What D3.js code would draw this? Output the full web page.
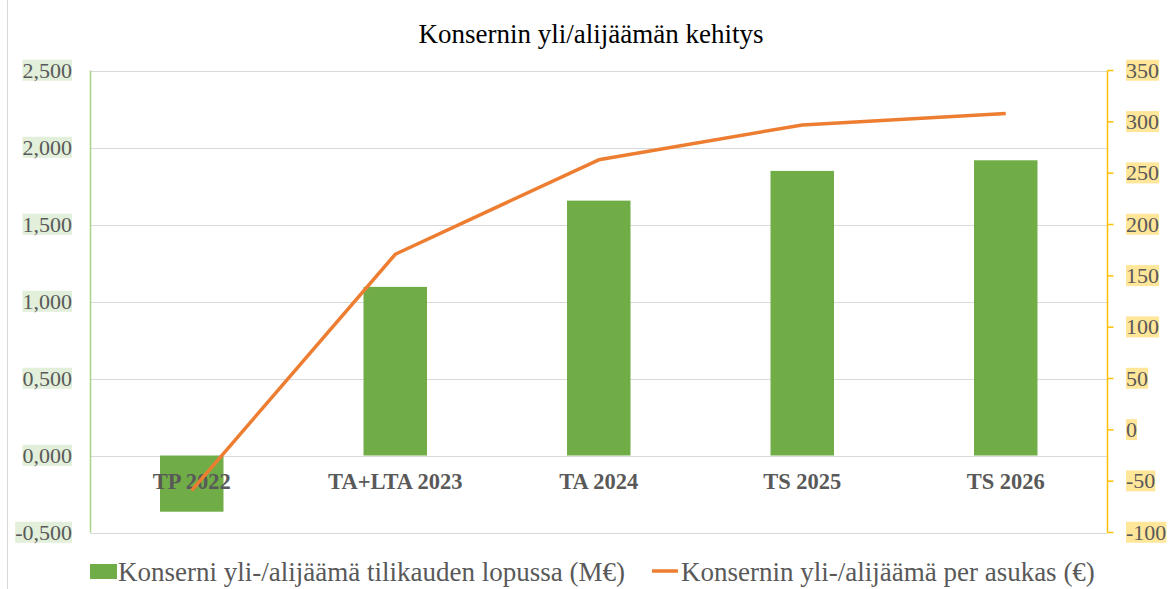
<!DOCTYPE html>
<html><head><meta charset="utf-8">
<script src="https://cdn.jsdelivr.net/npm/d3@7"></script>
<style>
html,body{margin:0;padding:0;background:#fff;}
</style></head>
<body><svg id="c" width="1169" height="589"></svg>
<script>
const title = "Konsernin yli/alijäämän kehitys";
const categories = ["TP 2022","TA+LTA 2023","TA 2024","TS 2025","TS 2026"];
const barValues = [-0.365, 1.095, 1.655, 1.848, 1.917];
const lineValues = [-59, 171, 263, 297, 308];
const leftTicks = [-0.5, 0, 0.5, 1, 1.5, 2, 2.5];
const leftTickLabels = ["-0,500","0,000","0,500","1,000","1,500","2,000","2,500"];
const rightTicks = [-100,-50,0,50,100,150,200,250,300,350];
const rightTickLabels = ["-100","-50","0","50","100","150","200","250","300","350"];
const seriesNames = ["Konserni yli-/alijäämä tilikauden lopussa (M€)","Konsernin yli-/alijäämä per asukas (€)"];

const FF = "Liberation Serif";
const svg = d3.select("#c");
const L = 90, R = 1107.5, T = 70.5, B = 532.5;
const x = d3.scaleBand().domain(categories).range([L, R]).padding(0);
const yL = d3.scaleLinear().domain([-0.5, 2.5]).range([B, T]);
const yR = d3.scaleLinear().domain([-100, 350]).range([B, T]);
const barW = x.bandwidth() * 0.312;

svg.append("line").attr("x1",7.5).attr("x2",7.5).attr("y1",0).attr("y2",589).attr("stroke","#d9d9d9").attr("stroke-width",1);

svg.append("text").attr("x",591).attr("y",42.5).attr("text-anchor","middle").attr("font-family",FF)
  .attr("font-size",27).attr("fill","#000").text(title);

svg.append("g").selectAll("line").data(leftTicks).join("line")
  .attr("x1",L).attr("x2",R).attr("y1",d=>Math.round(yL(d))+0.5).attr("y2",d=>Math.round(yL(d))+0.5)
  .attr("stroke","#d9d9d9").attr("stroke-width",1);

svg.append("g").selectAll("rect").data(barValues).join("rect")
  .attr("x",(d,i)=>x(categories[i]) + x.bandwidth()/2 - barW/2)
  .attr("width",barW)
  .attr("y",d=>Math.min(yL(d),yL(0)))
  .attr("height",d=>Math.abs(yL(d)-yL(0)))
  .attr("fill","#70ad47");

svg.append("line").attr("x1",L+0.5).attr("x2",L+0.5).attr("y1",T).attr("y2",B)
  .attr("stroke","#a9d18e").attr("stroke-width",1.5);

svg.append("line").attr("x1",R).attr("x2",R).attr("y1",T).attr("y2",B)
  .attr("stroke","#ffc000").attr("stroke-width",1.5);
svg.append("g").selectAll("line").data(rightTicks).join("line")
  .attr("x1",R).attr("x2",R+6).attr("y1",d=>yR(d)).attr("y2",d=>yR(d))
  .attr("stroke","#ffc000").attr("stroke-width",1.5);

function labelsWithBg(g, data, labels, scale, xpos, anchor, bg){
  const t = g.selectAll("text").data(data).join("text")
    .attr("x",xpos).attr("y",d=>scale(d)).attr("dy","0.33em").attr("font-family",FF)
    .attr("text-anchor",anchor).attr("font-size",22).attr("fill","#595959")
    .text((d,i)=>labels[i]);
  t.each(function(){
    const bb = this.getBBox();
    g.insert("rect","text").attr("x",bb.x).attr("y",bb.y+2).attr("width",bb.width).attr("height",bb.height-4).attr("fill",bg);
  });
}
labelsWithBg(svg.append("g"), leftTicks, leftTickLabels, yL, 72, "end", "#e2efda");
labelsWithBg(svg.append("g"), rightTicks, rightTickLabels, yR, 1126, "start", "#ffe699");

svg.append("g").selectAll("text").data(categories).join("text")
  .attr("x",d=>x(d)+x.bandwidth()/2).attr("y",489).attr("font-family",FF)
  .attr("text-anchor","middle").attr("font-size",22.5).attr("font-weight","bold")
  .attr("fill","#595959").text(d=>d);

const line = d3.line().x((d,i)=>x(categories[i])+x.bandwidth()/2).y(d=>yR(d));
svg.append("path").datum(lineValues).attr("d",line)
  .attr("fill","none").attr("stroke","#ed7d31").attr("stroke-width",3.5).attr("stroke-linejoin","round");

const lg = svg.append("g");
lg.append("rect").attr("x",90).attr("y",564).attr("width",27).attr("height",15).attr("fill","#70ad47");
lg.append("text").attr("x",118).attr("y",581).attr("font-family",FF).attr("font-size",27).attr("fill","#595959").text(seriesNames[0]);
lg.append("line").attr("x1",652).attr("x2",678).attr("y1",571).attr("y2",571).attr("stroke","#ed7d31").attr("stroke-width",3.5);
lg.append("text").attr("x",681).attr("y",581).attr("font-family",FF).attr("font-size",27).attr("fill","#595959").text(seriesNames[1]);
</script></body></html>
